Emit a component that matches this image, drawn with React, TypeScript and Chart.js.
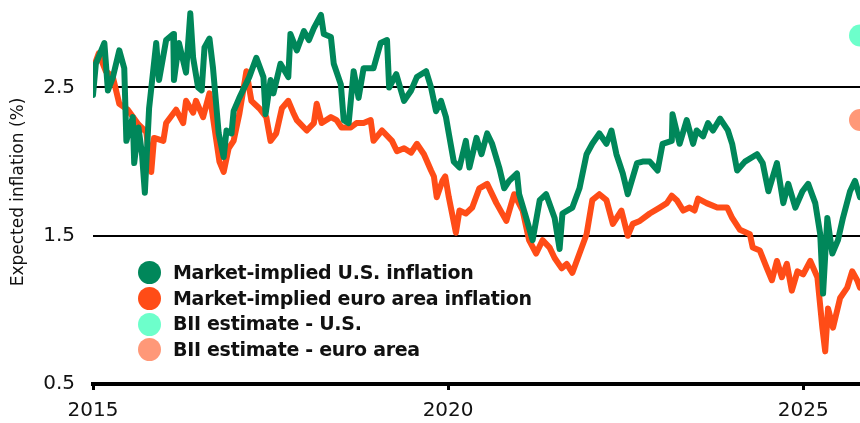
import React, { useEffect, useRef } from "react";
import { Chart, registerables } from "chart.js";

Chart.register(...registerables);

const usDates = [
  2015.0, 2015.04, 2015.16, 2015.21, 2015.28, 2015.37, 2015.44, 2015.47, 2015.56, 2015.58,
  2015.64, 2015.69, 2015.73, 2015.79, 2015.89, 2015.93, 2016.03, 2016.13, 2016.14, 2016.21,
  2016.31, 2016.37, 2016.41, 2016.48, 2016.53, 2016.57, 2016.64, 2016.69, 2016.77, 2016.84,
  2016.88, 2016.95, 2016.98, 2017.06, 2017.2, 2017.3, 2017.4, 2017.43, 2017.5, 2017.54,
  2017.64, 2017.75, 2017.78, 2017.87, 2017.97, 2018.04, 2018.11, 2018.21, 2018.25, 2018.35,
  2018.39, 2018.49, 2018.53, 2018.6, 2018.67, 2018.74, 2018.81, 2018.95, 2019.05, 2019.14,
  2019.17, 2019.27, 2019.38, 2019.48, 2019.56, 2019.69, 2019.76, 2019.83, 2019.9, 2019.97,
  2020.01, 2020.08, 2020.16, 2020.25, 2020.3, 2020.4, 2020.47, 2020.55, 2020.62, 2020.72,
  2020.79, 2020.86, 2020.97, 2021.0, 2021.1, 2021.19, 2021.29, 2021.38, 2021.5, 2021.57,
  2021.61, 2021.75, 2021.85, 2021.95, 2022.03, 2022.13, 2022.23, 2022.3, 2022.37, 2022.46,
  2022.53, 2022.66, 2022.74, 2022.84, 2022.95, 2023.02, 2023.15, 2023.16, 2023.26, 2023.36,
  2023.45, 2023.5, 2023.59, 2023.66, 2023.73, 2023.83, 2023.94, 2024.0, 2024.07, 2024.18,
  2024.35, 2024.43, 2024.51, 2024.63, 2024.72, 2024.79, 2024.89, 2024.99, 2025.07, 2025.17,
  2025.24, 2025.28, 2025.34, 2025.41, 2025.49, 2025.56, 2025.66, 2025.73, 2025.8,
];
const usValues = [
  2.45, 2.66, 2.8, 2.48, 2.57, 2.75, 2.63, 2.14, 2.3, 1.99,
  2.23, 2.05, 1.79, 2.36, 2.8, 2.55, 2.82, 2.86, 2.55, 2.8,
  2.6, 3.0, 2.7, 2.5, 2.48, 2.77, 2.83, 2.63, 2.19, 2.03,
  2.21, 2.19, 2.34, 2.43, 2.57, 2.7, 2.57, 2.32, 2.55, 2.46,
  2.66, 2.57, 2.86, 2.75, 2.88, 2.82, 2.9, 2.99, 2.86, 2.84,
  2.66, 2.52, 2.28, 2.26, 2.61, 2.43, 2.63, 2.63, 2.8, 2.82,
  2.5, 2.59, 2.41, 2.48, 2.57, 2.61, 2.5, 2.34, 2.41, 2.3,
  2.19, 2.0, 1.96, 2.14, 1.96, 2.16, 2.05, 2.19, 2.12, 1.96,
  1.82, 1.87, 1.92, 1.78, 1.62, 1.47, 1.74, 1.78, 1.62, 1.41,
  1.65, 1.69, 1.82, 2.05, 2.12, 2.19, 2.12, 2.21, 2.05, 1.92,
  1.78, 1.99, 2.0, 2.0, 1.94, 2.12, 2.14, 2.32, 2.12, 2.28,
  2.12, 2.21, 2.17, 2.26, 2.21, 2.29, 2.21, 2.12, 1.94, 2.0,
  2.05, 1.99, 1.8, 1.99, 1.72, 1.85, 1.69, 1.8, 1.85, 1.72,
  1.51, 1.11, 1.62, 1.38, 1.47, 1.62, 1.8, 1.87, 1.76,
];

const euDates = [
  2015.0, 2015.08, 2015.18, 2015.28, 2015.37, 2015.49, 2015.64, 2015.75, 2015.82, 2015.86,
  2015.99, 2016.03, 2016.17, 2016.27, 2016.31, 2016.41, 2016.45, 2016.55, 2016.64, 2016.71,
  2016.78, 2016.84, 2016.91, 2016.98, 2017.06, 2017.16, 2017.23, 2017.34, 2017.44, 2017.5,
  2017.58, 2017.66, 2017.75, 2017.82, 2017.87, 2018.01, 2018.11, 2018.15, 2018.22, 2018.35,
  2018.43, 2018.5, 2018.63, 2018.71, 2018.81, 2018.91, 2018.95, 2019.07, 2019.21, 2019.28,
  2019.38, 2019.48, 2019.56, 2019.66, 2019.76, 2019.8, 2019.84, 2019.92, 2019.96, 2020.01,
  2020.11, 2020.16, 2020.25, 2020.34, 2020.44, 2020.55, 2020.68, 2020.82, 2020.93, 2021.05,
  2021.14, 2021.24, 2021.33, 2021.43, 2021.5, 2021.6, 2021.67, 2021.75, 2021.85, 2021.95,
  2022.03, 2022.13, 2022.23, 2022.32, 2022.44, 2022.53, 2022.6, 2022.7, 2022.84, 2022.98,
  2023.08, 2023.15, 2023.22, 2023.31, 2023.4, 2023.47, 2023.52, 2023.64, 2023.79, 2023.93,
  2024.0, 2024.11, 2024.25, 2024.29, 2024.39, 2024.49, 2024.56, 2024.63, 2024.7, 2024.77,
  2024.84, 2024.92, 2025.0, 2025.1, 2025.2, 2025.27, 2025.31, 2025.35, 2025.42, 2025.52,
  2025.62, 2025.69, 2025.76, 2025.8,
];
const euValues = [
  2.62, 2.73, 2.61, 2.57, 2.39, 2.35, 2.25, 2.2, 1.93, 2.16,
  2.14, 2.26, 2.35, 2.26, 2.41, 2.33, 2.41, 2.3, 2.46, 2.23,
  2.0, 1.93, 2.09, 2.14, 2.32, 2.61, 2.41, 2.36, 2.3, 2.14,
  2.19, 2.36, 2.41, 2.33, 2.28, 2.21, 2.26, 2.39, 2.26, 2.3,
  2.28, 2.23, 2.23, 2.26, 2.26, 2.28, 2.14, 2.21, 2.14, 2.07,
  2.09, 2.06, 2.12, 2.05, 1.94, 1.9, 1.76, 1.87, 1.9, 1.76,
  1.52, 1.67, 1.65, 1.69, 1.82, 1.85, 1.72, 1.6, 1.78, 1.67,
  1.47, 1.38, 1.47, 1.42, 1.35, 1.28, 1.31, 1.25, 1.38, 1.51,
  1.74, 1.78, 1.74, 1.58, 1.67, 1.5, 1.58, 1.6, 1.65, 1.69,
  1.72, 1.77, 1.74, 1.67, 1.69, 1.67, 1.75, 1.72, 1.69, 1.69,
  1.62, 1.54, 1.51, 1.42, 1.4, 1.28, 1.2, 1.33, 1.22, 1.31,
  1.13, 1.26, 1.24, 1.33, 1.22, 0.88, 0.72, 1.01, 0.88, 1.08,
  1.15, 1.26, 1.2, 1.15,
];

const biiDate = 2025.8;
const biiUS = 2.85;
const biiEuro = 2.28;

const xTicks = [2015, 2020, 2025];
const yTicks = [0.5, 1.5, 2.5];

const legendItems = [
  { label: "Market-implied U.S. inflation", color: "#00875A" },
  { label: "Market-implied euro area inflation", color: "#FF4C17" },
  { label: "BII estimate - U.S.", color: "#6DFFCB" },
  { label: "BII estimate - euro area", color: "#FF9878" },
];

export default function App() {
  const ref = useRef<HTMLCanvasElement | null>(null);

  useEffect(() => {
    document.body.style.margin = "0";
    const canvas = ref.current;
    if (!canvas) return;
    const toPts = (xs: number[], ys: number[]) => xs.map((x, i) => ({ x, y: ys[i] }));
    const chart = new Chart(canvas, {
      type: "line",
      data: {
        datasets: [
          {
            label: "BII estimate - U.S.",
            data: [{ x: biiDate, y: biiUS }],
            showLine: false,
            pointRadius: 11,
            pointBackgroundColor: legendItems[2].color,
            pointBorderWidth: 0,
            clip: false as any,
            order: 0,
          },
          {
            label: "BII estimate - euro area",
            data: [{ x: biiDate, y: biiEuro }],
            showLine: false,
            pointRadius: 11,
            pointBackgroundColor: legendItems[3].color,
            pointBorderWidth: 0,
            clip: false as any,
            order: 0,
          },
          {
            label: "Market-implied U.S. inflation",
            data: toPts(usDates, usValues),
            borderColor: legendItems[0].color,
            borderWidth: 6,
            pointRadius: 0,
            tension: 0,
            borderJoinStyle: "round",
            borderCapStyle: "round",
            order: 1,
          },
          {
            label: "Market-implied euro area inflation",
            data: toPts(euDates, euValues),
            borderColor: legendItems[1].color,
            borderWidth: 6,
            pointRadius: 0,
            tension: 0,
            borderJoinStyle: "round",
            borderCapStyle: "round",
            order: 2,
          },
        ],
      },
      options: {
        animation: false,
        responsive: false,
        devicePixelRatio: 1,
        layout: { padding: 0, autoPadding: false },
        plugins: { legend: { display: false }, tooltip: { enabled: false }, title: { display: false } },
        scales: {
          x: {
            type: "linear",
            min: 2015,
            max: 2025.8,
            afterBuildTicks: (s: any) => {
              s.ticks = xTicks.map((v) => ({ value: v }));
            },
            afterFit: (s: any) => {
              s.height = 39;
              s.paddingLeft = 0;
              s.paddingRight = 0;
            },
            ticks: {
              color: "#111",
              font: { family: "DejaVu Sans", size: 20 },
              padding: 9,
              maxRotation: 0,
              callback: (v: any) => String(v),
            },
            grid: {
              display: true,
              drawOnChartArea: false,
              drawTicks: true,
              tickLength: 6,
              lineWidth: 3,
              color: "#000",
            },
            border: { display: true, color: "#000", width: 4 },
          },
          y: {
            type: "linear",
            min: 0.5,
            max: 3.09,
            afterBuildTicks: (s: any) => {
              s.ticks = yTicks.map((v) => ({ value: v }));
            },
            afterFit: (s: any) => {
              s.width = 93;
              s.paddingTop = 0;
              s.paddingBottom = 0;
            },
            ticks: {
              color: "#111",
              font: { family: "DejaVu Sans", size: 20 },
              padding: 18,
              callback: (v: any) => String(v),
            },
            grid: { color: "#000", lineWidth: 2, drawTicks: false },
            border: { display: false },
            title: {
              display: true,
              text: "Expected inflation (%)",
              color: "#111",
              font: { family: "DejaVu Sans", size: 17 },
              padding: { top: 8, bottom: 0 },
            },
          },
        },
      },
    });
    return () => chart.destroy();
  }, []);

  return (
    <div style={{ position: "absolute", left: 0, top: 0, width: 860, height: 423, overflow: "hidden", background: "#fff" }}>
      <canvas ref={ref} width={860} height={423} style={{ display: "block", width: 860, height: 423 }} />
      <div style={{ position: "absolute", left: 138, top: 260 }}>
        {legendItems.map((it) => (
          <div key={it.label} style={{ display: "flex", alignItems: "center", height: 25.7 }}>
            <span
              style={{
                display: "inline-block",
                flex: "none",
                width: 23,
                height: 23,
                borderRadius: "50%",
                background: it.color,
                marginRight: 12,
              }}
            />
            <span style={{ fontFamily: "DejaVu Sans", fontWeight: 700, fontSize: 19, lineHeight: "25.7px", color: "#111", whiteSpace: "nowrap", letterSpacing: -0.3 }}>
              {it.label}
            </span>
          </div>
        ))}
      </div>
    </div>
  );
}
